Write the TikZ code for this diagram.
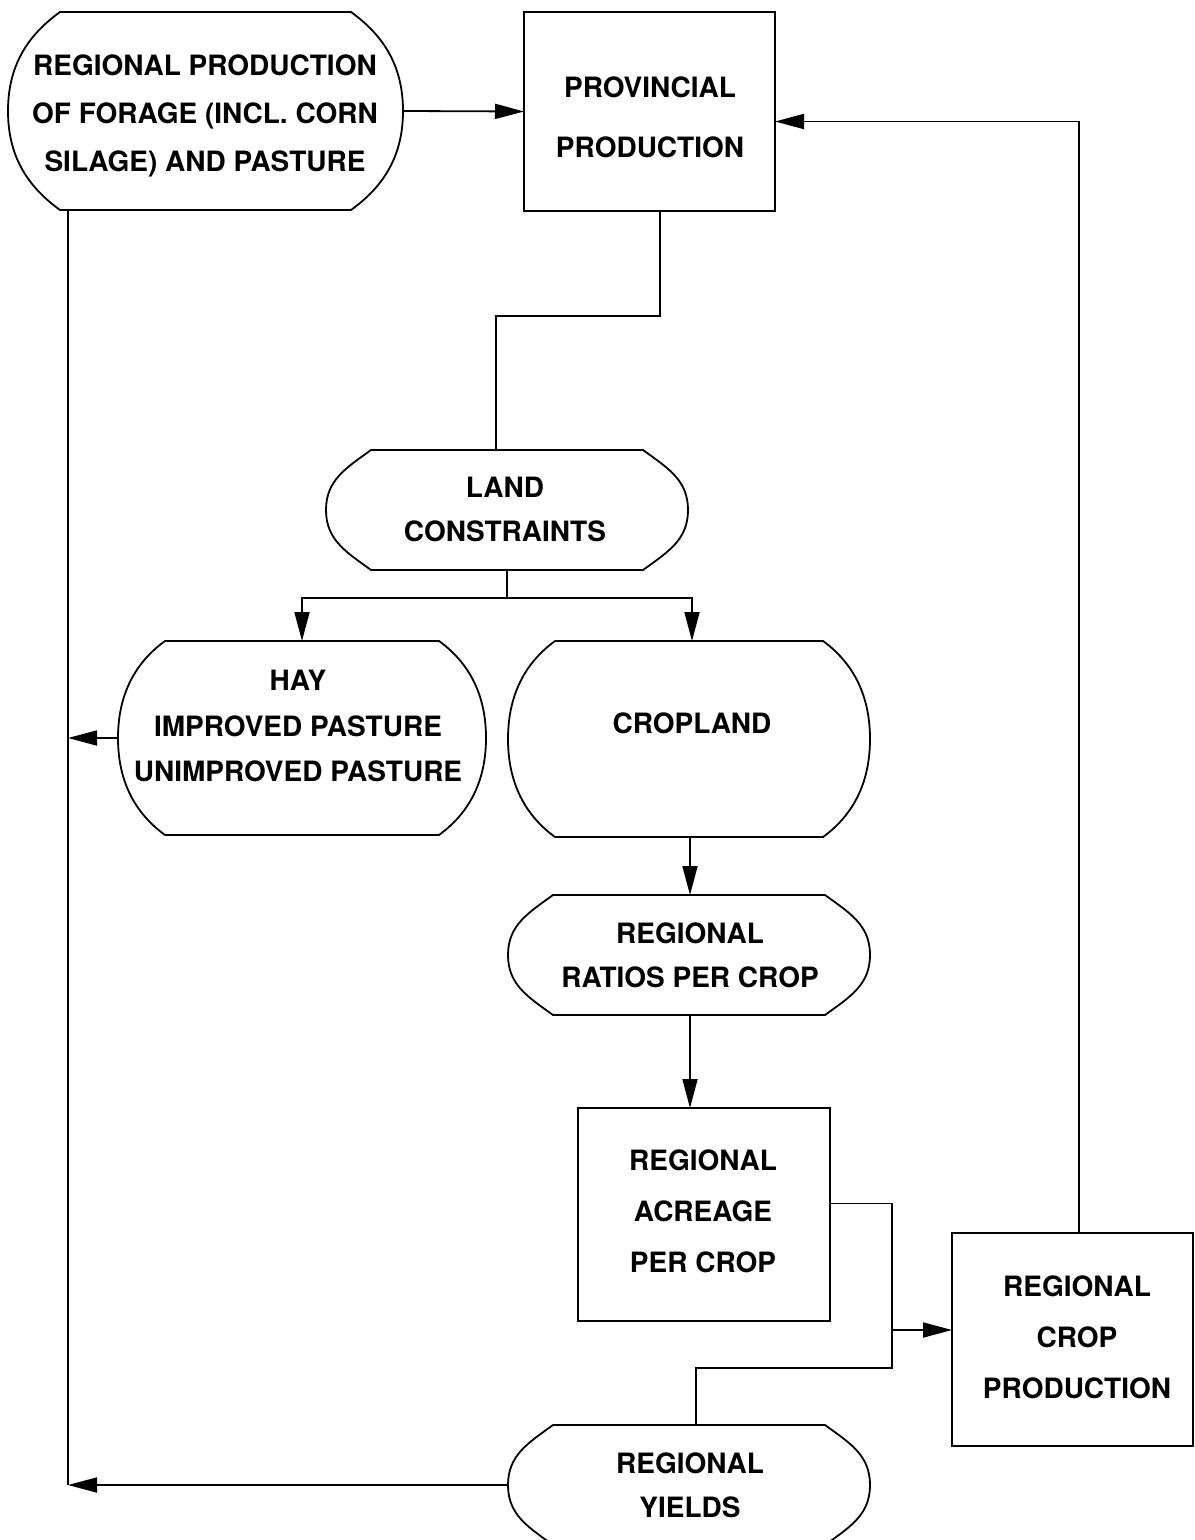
\documentclass[tikz,border=0pt]{standalone}
\usepackage{fontspec}
\setmainfont{TeX Gyre Heros}
\usetikzlibrary{arrows.meta,calc}
\newcommand\capsule[2]{%
  \draw[shpline] let \p1=(#1.north west), \p2=(#1.south east) in
   ({\x1+#2pt},\y1) -- ({\x2-#2pt},\y1)
   .. controls ({\x2-0.45*#2pt},{\y1-0.4*#2pt}) and (\x2,{\y1-0.25*(\y1-\y2)}) .. (\x2,{0.5*(\y1+\y2)})
   .. controls (\x2,{\y2+0.25*(\y1-\y2)}) and ({\x2-0.45*#2pt},{\y2+0.4*#2pt}) .. ({\x2-#2pt},\y2)
   -- ({\x1+#2pt},\y2)
   .. controls ({\x1+0.45*#2pt},{\y2+0.4*#2pt}) and (\x1,{\y2+0.25*(\y1-\y2)}) .. (\x1,{0.5*(\y1+\y2)})
   .. controls (\x1,{\y1-0.25*(\y1-\y2)}) and ({\x1+0.45*#2pt},{\y1-0.4*#2pt}) .. ({\x1+#2pt},\y1) -- cycle;}
\tikzset{
 shpline/.style={line width=0.9pt},
 box/.style={inner sep=0pt, outer sep=0pt},
 rbox/.style={box, draw, line width=0.9pt},
 con/.style={line width=0.9pt},
 arr/.style={con, -{Triangle[length=14.5pt,width=7.5pt]}},
 txt/.style={align=center, inner sep=0pt, font=\bfseries\fontsize{14pt}{#1}\selectfont},
 txt/.default=22pt,
}
\begin{document}
\begin{tikzpicture}[x=0.5pt,y=-0.5pt]
\useasboundingbox (0,0) rectangle (1194,1540);
% shapes
\node[box, minimum width=197.5pt, minimum height=99pt] (forage) at (205.5,111) {};
\node[rbox, minimum width=125.5pt, minimum height=99.5pt] (prov) at (649.5,111.5) {};
\node[box, minimum width=181pt, minimum height=60pt] (land) at (507,510) {};
\node[box, minimum width=184pt, minimum height=97pt] (hay) at (302,738) {};
\node[box, minimum width=181pt, minimum height=98pt] (crop) at (689,739) {};
\node[box, minimum width=181pt, minimum height=60pt] (ratio) at (689,955) {};
\node[rbox, minimum width=126pt, minimum height=106.5pt] (acre) at (704,1214.5) {};
\node[rbox, minimum width=120.5pt, minimum height=106.5pt] (cprod) at (1072.5,1339.5) {};
\node[box, minimum width=181pt, minimum height=60pt] (yields) at (689,1485) {};
\capsule{forage}{26}
\capsule{land}{22.5}
\capsule{hay}{23.5}
\capsule{crop}{23.5}
\capsule{ratio}{22.5}
\capsule{yields}{22.5}
% texts
\node[txt=24pt] (forageT) at (205,116) {REGIONAL PRODUCTION\\OF FORAGE (INCL. CORN\\SILAGE) AND PASTURE};
\node[txt=30pt] (provT) at (650,117) {PROVINCIAL\\PRODUCTION};
\node[txt=22pt] (landT) at (505,509) {LAND\\CONSTRAINTS};
\node[txt=22.75pt] (hayT) at (298,726) {HAY\\IMPROVED PASTURE\\UNIMPROVED PASTURE};
\node[txt] (cropT) at (692,723) {CROPLAND};
\node[txt=22pt] (ratioT) at (690,955) {REGIONAL\\RATIOS PER CROP};
\node[txt=25.5pt] (acreT) at (703,1211) {REGIONAL\\ACREAGE\\PER CROP};
\node[txt=25.5pt] (cprodT) at (1077,1337) {REGIONAL\\CROP\\PRODUCTION};
\node[txt=22pt] (yieldsT) at (690,1485) {REGIONAL\\YIELDS};
% helper coordinates
\coordinate (lx) at (68,0);
\coordinate (split) at ($(land.south)+(0,28)$);
\coordinate (jx) at (892,1330);
\coordinate (j2) at (892,1368);
% connectors
\draw[arr] (forage.east) -- (prov.west);
\draw[arr] ($(cprod.north)+(6.5,0)$) |- ($(prov.east)+(0,10)$);
\draw[con] ($(prov.south)+(10.5,0)$) -- ++(0,105) -| ($(land.north)+(-11,0)$);
\draw[con] (land.south) -- (split);
\draw[arr] (split) -| (hay.north);
\draw[arr] (split) -| ($(crop.north)+(3,0)$);
\draw[arr] ($(crop.south)+(1,0)$) -- ($(ratio.north)+(1,0)$);
\draw[arr] ($(ratio.south)+(1,0)$) -- ($(ratio.south|-acre.north)+(1,0)$);
\draw[con] ($(acre.east)+(0,-11)$) -| (j2) -| ($(yields.north)+(7,0)$);
\draw[arr] (jx) -- (cprod.west|-jx);
\draw[con] (forage.south-|lx) -- (lx|-yields.west);
\draw[arr] (yields.west) -- (yields.west-|lx);
\draw[arr] (hay.west) -- (hay.west-|lx);
\end{tikzpicture}
\end{document}
